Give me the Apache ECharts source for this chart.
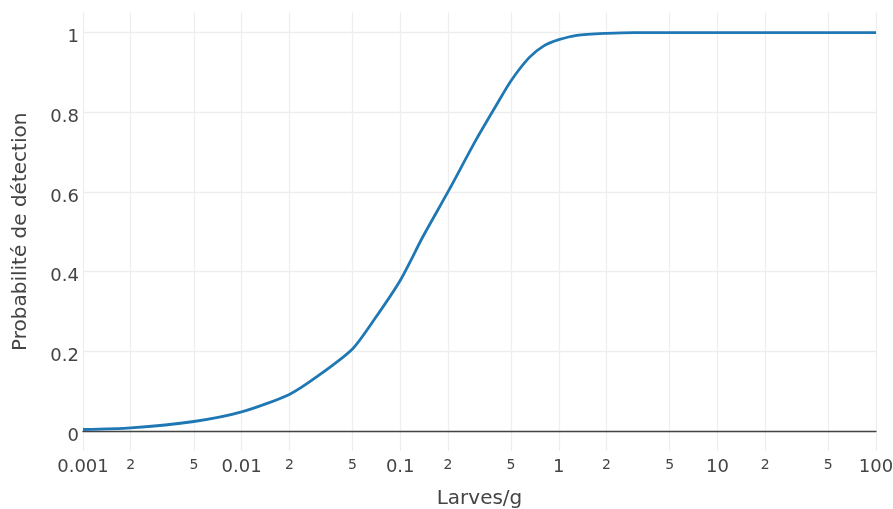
<!DOCTYPE html>
<html>
<head>
<meta charset="utf-8">
<script src="https://cdn.jsdelivr.net/npm/echarts@6/dist/echarts.min.js"></script>
<style>
html,body{margin:0;padding:0;background:#fff;}
#chart{width:893px;height:509px;}
</style>
</head>
<body>
<div id="chart"></div>
<script>
// Larves/g (x) and detection probability (y)
const larves = [0.001, 0.002, 0.005, 0.01, 0.02, 0.03, 0.05, 0.07, 0.1, 0.14, 0.2, 0.3, 0.4, 0.5, 0.65, 0.8, 1, 1.3, 2, 3, 5, 10, 20, 50, 100];
const probabilite = [0.004, 0.008, 0.024, 0.048, 0.092, 0.137, 0.206, 0.285, 0.378, 0.49, 0.6, 0.73, 0.815, 0.879, 0.937, 0.966, 0.982, 0.993, 0.998, 1, 1, 1, 1, 1, 1];

// Tick positions / labels
const xTicks = [0.001, 0.002, 0.005, 0.01, 0.02, 0.05, 0.1, 0.2, 0.5, 1, 2, 5, 10, 20, 50, 100];
const xMajorLabels = ['0.001', '0.01', '0.1', '1', '10', '100'];
const yTicks = [0, 0.2, 0.4, 0.6, 0.8, 1];

const xTitle = 'Larves/g';
const yTitle = 'Probabilité de détection';

const chart = echarts.init(document.getElementById('chart'), null, {renderer: 'canvas'});
const FONT = 'DejaVu Sans';
const TXT = '#444';

function fmtX(v) {
  const exp = Math.log10(v);
  const r = Math.round(exp);
  if (Math.abs(exp - r) < 1e-6) {
    return '{major|' + xMajorLabels[r + 3] + '}';
  }
  const m = Math.round(v / Math.pow(10, Math.floor(exp + 1e-9)));
  return '{minor|' + m + '}';
}

chart.setOption({
  animation: false,
  backgroundColor: '#fff',
  grid: {left: 83, right: 17, top: 12.6, bottom: 58, containLabel: false, outerBoundsMode: 'none'},
  xAxis: {
    type: 'log',
    logBase: 10,
    min: 0.001,
    max: 100,
    name: xTitle,
    nameLocation: 'middle',
    nameGap: 38,
    nameTextStyle: {fontFamily: FONT, fontSize: 20, color: TXT},
    axisLine: {show: true, onZero: true, lineStyle: {color: '#444', width: 1.3}},
    axisTick: {show: false, customValues: xTicks},
    axisLabel: {
      customValues: xTicks,
      margin: 7,
      formatter: fmtX,
      color: TXT,
      fontFamily: FONT,
      rich: {
        major: {fontFamily: FONT, fontSize: 18, lineHeight: 18, color: TXT},
        minor: {fontFamily: FONT, fontSize: 14, lineHeight: 14, color: TXT}
      }
    },
    splitLine: {show: true, lineStyle: {color: '#eeeeee', width: 1.3}},
    minorTick: {show: false},
    minorSplitLine: {show: false}
  },
  yAxis: {
    type: 'value',
    min: -0.05,
    max: 1.05,
    name: yTitle,
    nameLocation: 'middle',
    nameGap: 52,
    nameRotate: 90,
    nameTextStyle: {fontFamily: FONT, fontSize: 20, color: TXT},
    axisLine: {show: false},
    axisTick: {show: false, customValues: yTicks},
    axisLabel: {
      customValues: yTicks,
      margin: 4,
      color: TXT,
      fontFamily: FONT,
      fontSize: 18,
      verticalAlign: 'top',
      lineHeight: 10
    },
    splitLine: {show: true, lineStyle: {color: '#eeeeee', width: 1.3}}
  },
  series: [{
    type: 'line',
    data: larves.map((x, i) => [x, probabilite[i]]),
    showSymbol: false,
    symbol: 'none',
    smooth: 0.25,
    lineStyle: {color: '#1f77b4', width: 2.8},
    z: 3
  }]
});
</script>
</body>
</html>
